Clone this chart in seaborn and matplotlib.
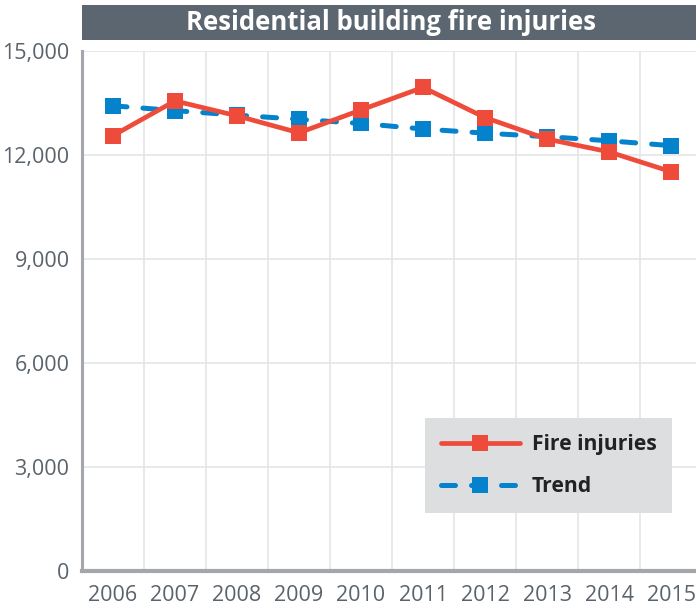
"""
Residential building fire injuries, 2006-2015, with trend line.
"""
import matplotlib
matplotlib.use('Agg')
import matplotlib.pyplot as plt
from matplotlib.patches import Rectangle
from matplotlib.ticker import FuncFormatter, FixedLocator
import seaborn as sns
import pandas as pd

years = [2006, 2007, 2008, 2009, 2010, 2011, 2012, 2013, 2014, 2015]
fire_injuries = [12560, 13560, 13130, 12640, 13300, 13950, 13080, 12460, 12090, 11520]
trend = [13420, 13280, 13150, 13030, 12910, 12750, 12630, 12530, 12410, 12270]
y_ticks = [0, 3000, 6000, 9000, 12000, 15000]

title = "Residential building fire injuries"
RED = '#ef4b3a'
BLUE = '#0482cc'
TICK_COLOR = '#5a636b'
AXIS_COLOR = '#a3a7ab'

sns.set_theme(style='white')
plt.rcParams['font.family'] = ['Open Sans', 'DejaVu Sans']

fig = plt.figure(figsize=(6.96, 6.11), dpi=100)
ax = fig.add_axes([82 / 696, 40 / 611, 620 / 696, 520 / 611])

df = pd.DataFrame({'year': years, 'Fire injuries': fire_injuries, 'Trend': trend})

sns.lineplot(data=df, x='year', y='Trend', ax=ax, color=BLUE, linewidth=3.6,
             marker='s', markersize=11.5, markeredgewidth=0,
             linestyle=(0, (2.8, 3.2)), dash_capstyle='round',
             label='Trend', zorder=3)
sns.lineplot(data=df, x='year', y='Fire injuries', ax=ax, color=RED, linewidth=3.4,
             marker='s', markersize=11.5, markeredgewidth=0,
             label='Fire injuries', zorder=4)

ax.set_xlim(years[0] - 0.5, years[-1] + 0.5)
ax.set_ylim(0, 15000)
ax.set_xlabel('')
ax.set_ylabel('')

ax.xaxis.set_major_locator(FixedLocator(years))
ax.xaxis.set_minor_locator(FixedLocator([y - 0.5 for y in years]))
ax.yaxis.set_major_locator(FixedLocator(y_ticks))
ax.yaxis.set_major_formatter(FuncFormatter(lambda v, _: f'{int(v):,}'))

ax.grid(False)
ax.grid(True, which='minor', axis='x', color='#e3e5e7', linewidth=1.2)
ax.grid(True, which='major', axis='y', color='#e3e5e7', linewidth=1.2)

ax.tick_params(axis='x', which='major', length=0, labelsize=15.5, colors=TICK_COLOR, pad=10)
ax.tick_params(axis='x', which='minor', length=10, width=2, color=AXIS_COLOR, direction='out')
ax.tick_params(axis='y', which='major', length=0, labelsize=15.5, labelcolor=TICK_COLOR, pad=9)

for side in ['top', 'right']:
    ax.spines[side].set_visible(False)
ax.spines['left'].set_color(AXIS_COLOR)
ax.spines['left'].set_linewidth(2.2)
ax.spines['bottom'].set_color(AXIS_COLOR)
ax.spines['bottom'].set_linewidth(3)

handles, labels = ax.get_legend_handles_labels()
order = [labels.index('Fire injuries'), labels.index('Trend')]
leg = ax.legend([handles[i] for i in order], [labels[i] for i in order],
                loc='lower left', bbox_to_anchor=(0.553, 0.1115), frameon=True,
                fancybox=False, handlelength=3.75, borderpad=0.75, labelspacing=1.0,
                handletextpad=0.56, borderaxespad=0, prop={'weight': 'bold', 'size': 15.2})
leg.get_frame().set_facecolor('#dcdee0')
leg.get_frame().set_edgecolor('none')
leg.get_frame().set_alpha(1)
for t in leg.get_texts():
    t.set_color('#222222')

fig.patches.append(Rectangle((82 / 696, (611 - 40) / 611), 614 / 696, 35 / 611,
                             transform=fig.transFigure, facecolor='#5b6670',
                             edgecolor='none', zorder=0))
fig.text(391 / 696, (611 - 22) / 611, title, ha='center', va='center',
         color='white', fontsize=18.5, fontweight='bold')

fig.savefig('out.png', dpi=100)
